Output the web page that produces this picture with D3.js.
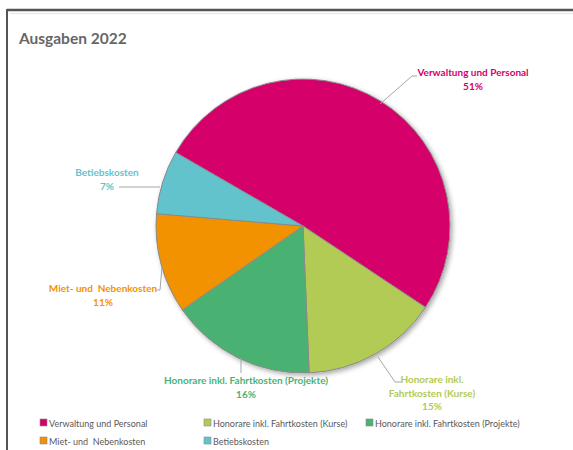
<!DOCTYPE html>
<html>
<head>
<meta charset="utf-8">
<script src="https://cdn.jsdelivr.net/npm/d3@7"></script>
<style>
  html, body { margin: 0; padding: 0; background: #fff; }
  svg { display: block; font-family: Lato, "Open Sans", sans-serif; }
</style>
</head>
<body>
<svg id="chart" width="573" height="450"></svg>
<script>
// Ausgaben 2022 – share of each cost group
const categories = [
  "Verwaltung und Personal",
  "Honorare inkl. Fahrtkosten (Kurse)",
  "Honorare inkl. Fahrtkosten (Projekte)",
  "Miet- und  Nebenkosten",
  "Betiebskosten"
];
const values = [51, 15, 16, 11, 7];
const colors = ["#D5006A", "#B1CB55", "#4AB273", "#F39200", "#63C3CD"];

const svg = d3.select("#chart");

// frame
svg.append("line").attr("x1", 7).attr("x2", 573).attr("y1", 10).attr("y2", 10)
  .attr("stroke", "#555").attr("stroke-width", 2.5);
svg.append("line").attr("x1", 7).attr("x2", 7).attr("y1", 9).attr("y2", 450)
  .attr("stroke", "#555").attr("stroke-width", 2);
svg.append("line").attr("x1", 10).attr("x2", 573).attr("y1", 13.5).attr("y2", 13.5)
  .attr("stroke", "#e4e4e4").attr("stroke-width", 1);

// title
svg.append("text").attr("x", 19).attr("y", 44)
  .attr("font-size", 15.5).attr("font-weight", "bold").attr("fill", "#666")
  .text("Ausgaben 2022");

// shadow
const defs = svg.append("defs");
const f = defs.append("filter").attr("id", "shadow")
  .attr("x", "-10%").attr("y", "-10%").attr("width", "120%").attr("height", "120%");
f.append("feDropShadow").attr("dx", 2).attr("dy", 2).attr("stdDeviation", 2.5)
  .attr("flood-color", "#000").attr("flood-opacity", 0.35);

const cx = 303, cy = 226, r = 147;
const startAngle = -60 * Math.PI / 180;

const pie = d3.pie().sort(null).value(d => d)
  .startAngle(startAngle).endAngle(startAngle + 2 * Math.PI);
const arcs = pie(values);
const arc = d3.arc().innerRadius(0).outerRadius(r);

const g = svg.append("g").attr("transform", `translate(${cx},${cy})`);
g.append("g").attr("filter", "url(#shadow)")
  .selectAll("path").data(arcs).join("path")
  .attr("d", arc)
  .attr("fill", (d, i) => colors[i])
  .attr("stroke", "#8a8a8a").attr("stroke-width", 1);

// data labels with leader lines
const pct = d => d + "%";
const labels = [
  { lines: ["Verwaltung und Personal"], x: 473, y: 76, anchor: "middle",
    leader: [[380, 104], [412, 76], [417, 76]] },
  { lines: ["Honorare inkl.", "Fahrtkosten (Kurse)"], x: 432, y: 383, anchor: "middle",
    leader: [[378, 357], [395, 382], [401, 382]] },
  { lines: ["Honorare inkl. Fahrtkosten (Projekte)"], x: 246, y: 384, anchor: "middle",
    leader: [[241, 358], [241, 373]] },
  { lines: ["Miet- und  Nebenkosten"], x: 103, y: 292, anchor: "middle",
    leader: [[162, 267], [160, 290], [157, 290]] },
  { lines: ["Betiebskosten"], x: 107, y: 176, anchor: "middle",
    leader: [[119, 187], [160, 187]] }
];

labels.forEach((lb, i) => {
  svg.append("path")
    .attr("d", d3.line()(lb.leader))
    .attr("fill", "none").attr("stroke", "#a6a6a6").attr("stroke-width", 1);
  const t = svg.append("text")
    .attr("x", lb.x).attr("y", lb.y)
    .attr("text-anchor", lb.anchor)
    .attr("font-size", 10).attr("font-weight", "bold")
    .attr("fill", colors[i])
    .attr("xml:space", "preserve");
  lb.lines.concat([pct(values[i])]).forEach((s, k) => {
    t.append("tspan").attr("x", lb.x).attr("dy", k === 0 ? 0 : 13.5).text(s);
  });
});

// legend
const legendPos = [[40, 423], [204, 423], [366, 423], [40, 441], [204, 441]];
const lg = svg.append("g");
categories.forEach((c, i) => {
  const [x, y] = legendPos[i];
  lg.append("rect").attr("x", x).attr("y", y - 4).attr("width", 7).attr("height", 7)
    .attr("fill", colors[i]).attr("stroke", "#8a8a8a").attr("stroke-width", 0.6);
  lg.append("text").attr("x", x + 9).attr("y", y + 3.5)
    .attr("font-size", 9).attr("fill", "#595959")
    .attr("xml:space", "preserve")
    .text(c);
});
</script>
</body>
</html>
